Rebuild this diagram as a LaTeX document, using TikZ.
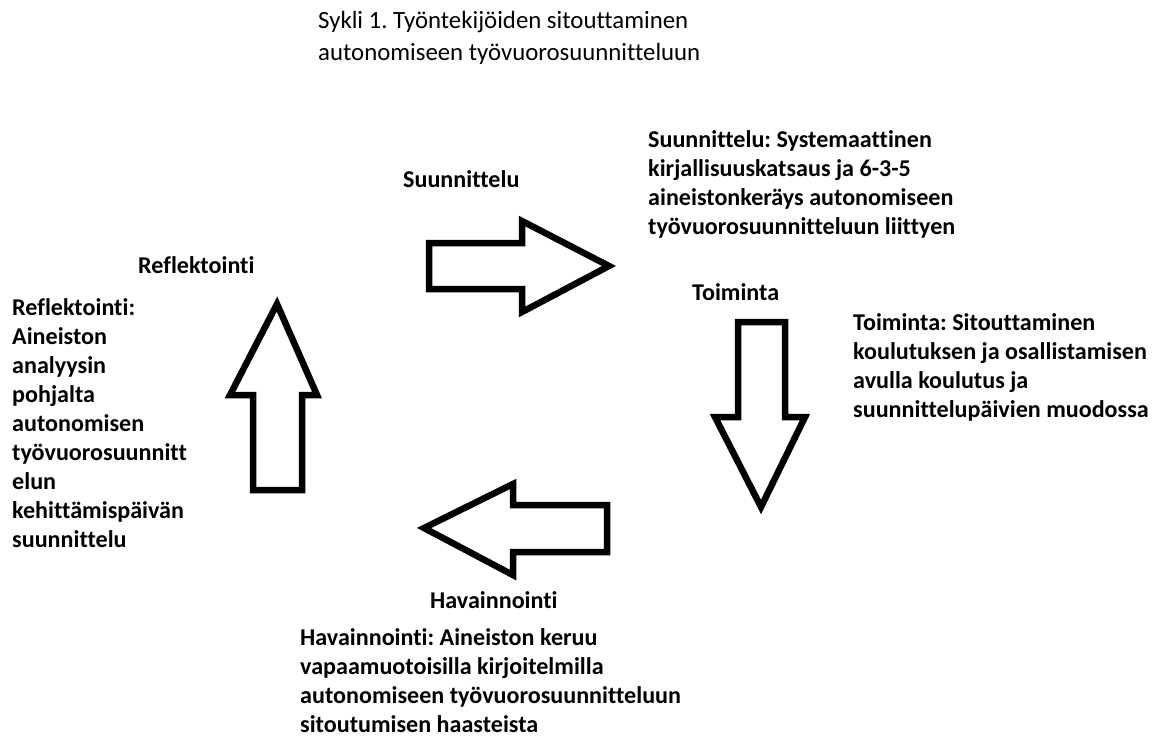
\documentclass[tikz,border=0pt]{standalone}
\usepackage{fontspec}
\setmainfont{Carlito}[Ligatures={NoCommon}]
\frenchspacing
\begin{document}
\begin{tikzpicture}[x=1pt,y=-1pt,
  bigarrow/.style={draw=black,line width=6.5pt,line join=miter,fill=white},
  lbl/.style={anchor=base west,inner sep=0pt,font=\fontsize{24.1}{29}\selectfont\bfseries},
  desc/.style={anchor=base west,inner sep=0pt,font=\fontsize{24.1}{29}\selectfont\bfseries},
  ttl/.style={anchor=base west,inner sep=0pt,font=\fontsize{24.8}{32}\selectfont}]
\useasboundingbox[fill=white] (0,0) rectangle (1163,737);
% title
\node[ttl] (title) at (318,28) {\begin{tabular}[t]{@{}l@{}}Sykli 1. Työntekijöiden sitouttaminen\\autonomiseen työvuorosuunnitteluun\end{tabular}};
% arrows
\draw[bigarrow] (429,243) -- (522,243) -- (522,221) -- (609,266) -- (522,312) -- (522,289) -- (429,289) -- cycle;
\draw[bigarrow] (738,322) -- (785,322) -- (785,417) -- (805,417) -- (761,507) -- (715,417) -- (738,417) -- cycle;
\draw[bigarrow] (607,505) -- (513,505) -- (513,484) -- (424,528) -- (513,575) -- (513,552) -- (607,552) -- cycle;
\draw[bigarrow] (253,490) -- (302,490) -- (302,395) -- (317,395) -- (277,304) -- (230,395) -- (253,395) -- cycle;
% labels
\node[lbl] (suun) at (403,187) {Suunnittelu};
\node[lbl] (toim) at (692,300) {Toiminta};
\node[lbl] (hav) at (430,608) {Havainnointi};
\node[lbl] (refl) at (138,273) {Reflektointi};
% descriptions
\node[desc] (suund) at (648,147) {\begin{tabular}[t]{@{}l@{}}Suunnittelu: Systemaattinen\\kirjallisuuskatsaus ja 6-3-5\\aineistonkeräys autonomiseen\\työvuorosuunnitteluun liittyen\end{tabular}};
\node[desc] (toimd) at (853,330) {\begin{tabular}[t]{@{}l@{}}Toiminta: Sitouttaminen\\koulutuksen ja osallistamisen\\avulla koulutus ja\\suunnittelupäivien muodossa\end{tabular}};
\node[desc] (havd) at (300,645) {\begin{tabular}[t]{@{}l@{}}Havainnointi: Aineiston keruu\\vapaamuotoisilla kirjoitelmilla\\autonomiseen työvuorosuunnitteluun\\sitoutumisen haasteista\end{tabular}};
\node[desc] (refld) at (12,315) {\begin{tabular}[t]{@{}l@{}}Reflektointi:\\Aineiston\\analyysin\\pohjalta\\autonomisen\\työvuorosuunnitt\\elun\\kehittämispäivän\\suunnittelu\end{tabular}};
\end{tikzpicture}
\end{document}
